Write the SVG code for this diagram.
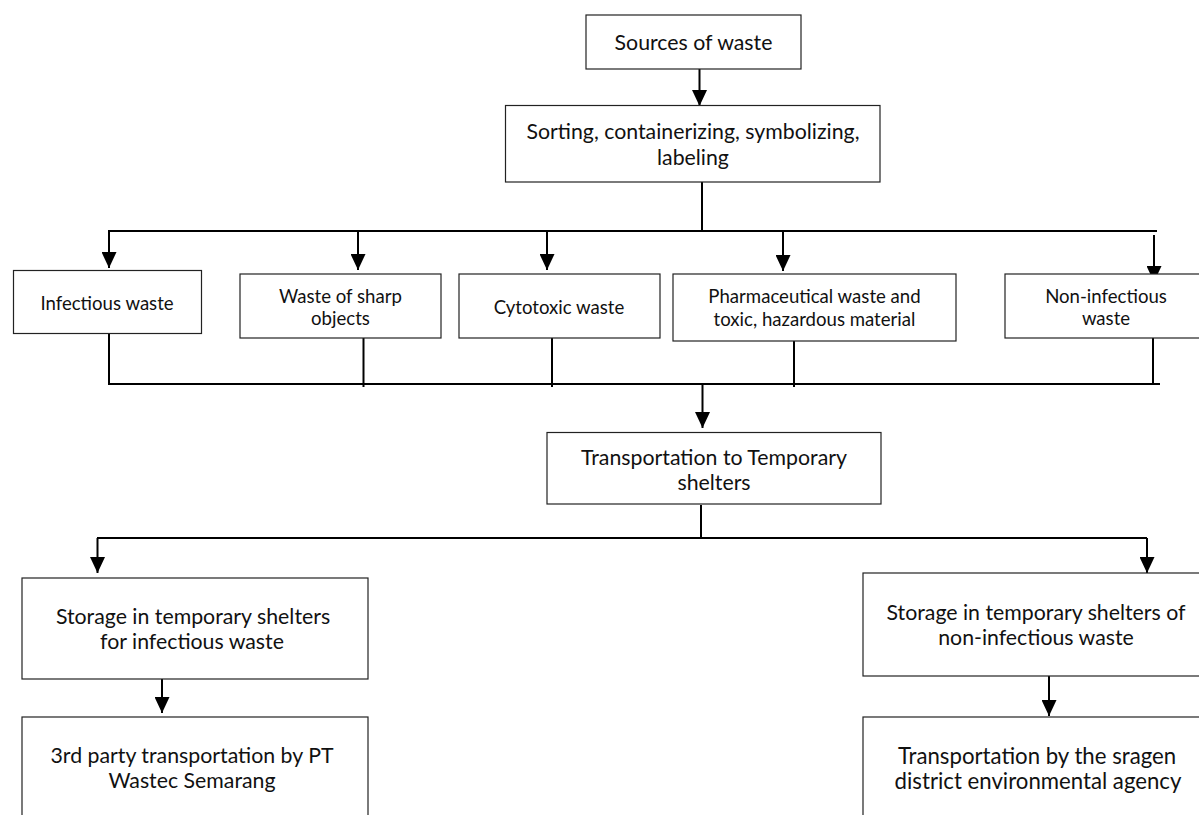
<svg xmlns="http://www.w3.org/2000/svg" width="1199" height="815" viewBox="0 0 1199 815">
<style>
.box{fill:#fff;stroke:#222;stroke-width:1.2}
.t{font-family:Lato,"Liberation Sans",sans-serif;fill:#111;text-anchor:middle}
.big{font-size:21.3px}
.bigger{font-size:22.2px}
.sm{font-size:18.6px}
.ln{stroke:#000;stroke-width:2;fill:none}
</style>
<defs>
<marker id="ah" viewBox="0 0 16 15" markerWidth="16" markerHeight="15" refX="16" refY="7.5" orient="auto" markerUnits="userSpaceOnUse">
<path d="M0,0 L16,7.5 L0,15 z" fill="#000"/>
</marker>
</defs>
<rect width="1199" height="815" fill="#fff"/>
<g id="connectors">
<line class="ln" x1="699.5" y1="69" x2="699.5" y2="106" marker-end="url(#ah)"/>
<line class="ln" x1="702" y1="182" x2="702" y2="231"/>
<line class="ln" x1="108" y1="231" x2="1157" y2="231"/>
<line class="ln" x1="109" y1="231" x2="109" y2="268" marker-end="url(#ah)"/>
<line class="ln" x1="358" y1="231" x2="358" y2="270" marker-end="url(#ah)"/>
<line class="ln" x1="547" y1="231" x2="547" y2="270" marker-end="url(#ah)"/>
<line class="ln" x1="783" y1="231" x2="783" y2="271" marker-end="url(#ah)"/>
<line class="ln" x1="1154" y1="235" x2="1154" y2="282" marker-end="url(#ah)"/>
<line class="ln" x1="109" y1="334" x2="109" y2="384"/>
<line class="ln" x1="363.5" y1="338" x2="363.5" y2="387"/>
<line class="ln" x1="552" y1="338" x2="552" y2="387"/>
<line class="ln" x1="794" y1="341" x2="794" y2="387"/>
<line class="ln" x1="1153" y1="338" x2="1153" y2="384"/>
<line class="ln" x1="108" y1="384" x2="1160" y2="384"/>
<line class="ln" x1="702.5" y1="384" x2="702.5" y2="428" marker-end="url(#ah)"/>
<line class="ln" x1="701" y1="505" x2="701" y2="538"/>
<line class="ln" x1="97" y1="538" x2="1147" y2="538"/>
<line class="ln" x1="97.5" y1="538" x2="97.5" y2="573" marker-end="url(#ah)"/>
<line class="ln" x1="1147" y1="538" x2="1147" y2="573" marker-end="url(#ah)"/>
<line class="ln" x1="162" y1="679" x2="162" y2="713" marker-end="url(#ah)"/>
<line class="ln" x1="1049" y1="676" x2="1049" y2="716" marker-end="url(#ah)"/>
</g>
<g id="n-sources">
<rect class="box" x="586" y="15" width="215" height="54"/>
<text class="t big" x="693.5" y="50">Sources of waste</text>
</g>
<g id="n-sorting">
<rect class="box" x="505.5" y="105.5" width="374.5" height="76.5"/>
<text class="t big" x="693" y="139">Sorting, containerizing, symbolizing,</text>
<text class="t big" x="693" y="165">labeling</text>
</g>
<g id="n-infectious">
<rect class="box" x="13.5" y="270.5" width="188" height="63"/>
<text class="t sm" x="107" y="310">Infectious waste</text>
</g>
<g id="n-sharp">
<rect class="box" x="240" y="274" width="201" height="64"/>
<text class="t sm" x="340.5" y="303">Waste of sharp</text>
<text class="t sm" x="340.5" y="325">objects</text>
</g>
<g id="n-cytotoxic">
<rect class="box" x="459" y="274" width="201" height="64"/>
<text class="t sm" x="559" y="314">Cytotoxic waste</text>
</g>
<g id="n-pharma">
<rect class="box" x="673" y="274" width="283" height="67"/>
<text class="t sm" x="814.5" y="303">Pharmaceutical waste and</text>
<text class="t sm" x="814.5" y="326">toxic, hazardous material</text>
</g>
<g id="n-noninfectious">
<rect class="box" x="1005" y="274" width="200" height="64"/>
<text class="t sm" x="1106" y="303">Non-infectious</text>
<text class="t sm" x="1106" y="325">waste</text>
</g>
<g id="n-transport">
<rect class="box" x="547" y="432.5" width="334" height="71.5"/>
<text class="t big" x="714" y="465">Transportation to Temporary</text>
<text class="t big" x="714" y="490">shelters</text>
</g>
<g id="n-storage-inf">
<rect class="box" x="22" y="578" width="346" height="101"/>
<text class="t big" x="193" y="624">Storage in temporary shelters</text>
<text class="t big" x="192" y="649">for infectious waste</text>
</g>
<g id="n-storage-noninf">
<rect class="box" x="863" y="573" width="346" height="103"/>
<text class="t big" x="1036" y="620">Storage in temporary shelters of</text>
<text class="t big" x="1036" y="645">non-infectious waste</text>
</g>
<g id="n-wastec">
<rect class="box" x="22" y="717" width="346" height="110"/>
<text class="t big" x="192" y="763">3rd party transportation by PT</text>
<text class="t big" x="192" y="788">Wastec Semarang</text>
</g>
<g id="n-dlh">
<rect class="box" x="863" y="717" width="346" height="110"/>
<text class="t bigger" x="1037" y="764">Transportation by the sragen</text>
<text class="t bigger" x="1038" y="789">district environmental agency</text>
</g>
</svg>
